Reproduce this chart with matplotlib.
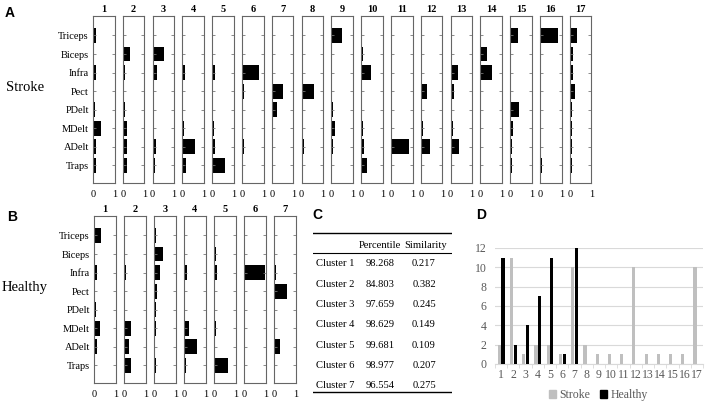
import numpy as np
import matplotlib
matplotlib.use('Agg')
import matplotlib.pyplot as plt
from matplotlib.patches import Patch

plt.rcParams['font.family'] = ['Liberation Serif', 'DejaVu Serif']

muscles = ['Triceps', 'Biceps', 'Infra', 'Pect', 'PDelt', 'MDelt', 'ADelt', 'Traps']

# synergy weights, one row per cluster, columns in muscle order
stroke_syn = [
    [0.14, 0.04, 0.14, 0.01, 0.11, 0.38, 0.16, 0.13],
    [0.05, 0.33, 0.12, 0.07, 0.09, 0.18, 0.20, 0.21],
    [0.08, 0.52, 0.20, 0.04, 0.06, 0.04, 0.14, 0.09],
    [0.01, 0.01, 0.14, 0.04, 0.03, 0.09, 0.60, 0.18],
    [0.06, 0.06, 0.12, 0.04, 0.04, 0.07, 0.12, 0.60],
    [0.03, 0.03, 0.77, 0.08, 0.03, 0.03, 0.08, 0.06],
    [0.05, 0.06, 0.06, 0.54, 0.23, 0.03, 0.06, 0.06],
    [0.03, 0.06, 0.06, 0.58, 0.03, 0.03, 0.12, 0.03],
    [0.51, 0.02, 0.05, 0.03, 0.09, 0.18, 0.09, 0.02],
    [0.05, 0.09, 0.45, 0.03, 0.05, 0.08, 0.12, 0.29],
    [0.02, 0.02, 0.05, 0.05, 0.02, 0.06, 0.86, 0.05],
    [0.06, 0.03, 0.06, 0.31, 0.03, 0.11, 0.45, 0.05],
    [0.02, 0.02, 0.34, 0.18, 0.02, 0.11, 0.37, 0.05],
    [0.03, 0.32, 0.55, 0.05, 0.02, 0.02, 0.02, 0.03],
    [0.34, 0.02, 0.03, 0.02, 0.42, 0.12, 0.08, 0.09],
    [0.86, 0.02, 0.02, 0.02, 0.05, 0.05, 0.03, 0.08],
    [0.32, 0.15, 0.17, 0.23, 0.11, 0.11, 0.08, 0.08],
]
healthy_syn = [
    [0.32, 0.05, 0.14, 0.02, 0.09, 0.27, 0.12, 0.06],
    [0.03, 0.02, 0.11, 0.02, 0.06, 0.32, 0.24, 0.33],
    [0.08, 0.41, 0.29, 0.15, 0.08, 0.09, 0.02, 0.08],
    [0.06, 0.02, 0.12, 0.05, 0.03, 0.21, 0.59, 0.08],
    [0.02, 0.09, 0.14, 0.05, 0.03, 0.09, 0.05, 0.67],
    [0.01, 0.01, 0.98, 0.01, 0.02, 0.01, 0.01, 0.01],
    [0.06, 0.04, 0.08, 0.60, 0.04, 0.04, 0.27, 0.06],
]

table_clusters = ['Cluster 1', 'Cluster 2', 'Cluster 3', 'Cluster 4', 'Cluster 5', 'Cluster 6', 'Cluster 7']
table_percentile = ['98.268', '84.803', '97.659', '98.629', '99.681', '98.977', '96.554']
table_similarity = ['0.217', '0.382', '0.245', '0.149', '0.109', '0.207', '0.275']

d_clusters = [str(i) for i in range(1, 18)]
d_stroke = [2, 11, 1, 2, 2, 1, 10, 2, 1, 1, 1, 10, 1, 1, 1, 1, 10]
d_healthy = [11, 2, 4, 7, 11, 1, 12, 0, 0, 0, 0, 0, 0, 0, 0, 0, 0]

W, H = 708, 405
fig = plt.figure(figsize=(W / 100, H / 100), dpi=100)


def px_axes(x0, y0, x1, y1):
    return fig.add_axes([x0 / W, 1 - y1 / H, (x1 - x0) / W, (y1 - y0) / H])


def synergy_row(data, left, step, top, bottom, row_label):
    ypos = np.arange(len(muscles))[::-1] + 1
    for i, weights in enumerate(data):
        x0 = left + i * step
        ax = px_axes(x0, top, x0 + 21.5, bottom)
        ax.barh(ypos, weights, height=0.8, color='black')
        ax.set_xlim(0, 1)
        ax.set_ylim(0.05, 9.05)
        ax.set_xticks([0, 1])
        ax.set_xticklabels(['0', '1'], fontsize=7.5)
        ax.set_yticks(ypos)
        ax.tick_params(axis='y', direction='in', length=2, left=True, right=True,
                       width=0.6, color='#777777')
        ax.tick_params(axis='x', length=0, pad=5)
        if i == 0:
            ax.set_yticklabels(muscles, fontsize=7.5)
            ax.tick_params(axis='y', pad=3)
        else:
            ax.set_yticklabels([])
        for s in ax.spines.values():
            s.set_color('#666666')
            s.set_linewidth(0.8)
        ax.set_title(str(i + 1), fontsize=7.5, fontweight='bold', pad=3)
    fig.text(25 / W, 1 - ((top + bottom) / 2 - 12) / H, row_label, fontsize=10.5,
             ha='center', va='center')


synergy_row(stroke_syn, 93, 29.8, 16, 183, 'Stroke')
synergy_row(healthy_syn, 94, 30.0, 216, 383, 'Healthy')

# panel letters
for lab, x, y in [('A', 10, 13), ('B', 12, 217), ('C', 317, 215), ('D', 481, 215)]:
    fig.text(x / W, 1 - y / H, lab, fontsize=10, fontweight='bold',
             family='Liberation Sans', ha='center', va='center')

# table C
tab = px_axes(313, 228, 452, 396)
tab.set_xlim(313, 452)
tab.set_ylim(396, 228)
tab.axis('off')
tab.plot([313, 451], [233, 233], color='black', lw=1.0)
tab.plot([313, 451], [253, 253], color='black', lw=0.8)
tab.plot([313, 451], [392, 392], color='black', lw=1.0)
tab.text(380, 245, 'Percentile', fontsize=7.6, ha='center', va='center')
tab.text(426, 245, 'Similarity', fontsize=7.6, ha='center', va='center')
for k in range(len(table_clusters)):
    yy = 264 + k * 20.3
    tab.text(316, yy, table_clusters[k], fontsize=7.6, ha='left', va='center')
    tab.text(380, yy, table_percentile[k], fontsize=7.6, ha='center', va='center')
    tab.text(424, yy, table_similarity[k], fontsize=7.6, ha='center', va='center')

# panel D
axd = px_axes(495, 248, 703, 364)
xpos = np.arange(1, len(d_clusters) + 1)
axd.bar(xpos - 0.15, d_stroke, width=0.26, color='#BFBFBF', zorder=3)
axd.bar(xpos + 0.15, d_healthy, width=0.26, color='black', zorder=3)
axd.set_xlim(0.5, len(d_clusters) + 0.5)
axd.set_ylim(0, 12)
axd.set_yticks(range(0, 13, 2))
axd.set_xticks(xpos)
axd.set_xticklabels(d_clusters)
axd.set_xticks(np.arange(0.5, len(d_clusters) + 1, 1), minor=True)
axd.tick_params(axis='x', which='minor', length=3, color='#D9D9D9')
axd.tick_params(axis='both', which='major', length=0, labelsize=8.5, labelcolor='#595959')
axd.tick_params(axis='y', pad=6)
axd.grid(axis='y', color='#D9D9D9', lw=0.8, zorder=0)
for s in ['top', 'right', 'left']:
    axd.spines[s].set_visible(False)
axd.spines['bottom'].set_color('#D9D9D9')
handles = [Patch(color='#BFBFBF', label='Stroke'), Patch(color='black', label='Healthy')]
fig.legend(handles=handles, loc='center', bbox_to_anchor=(598 / W, 1 - 395 / H), ncol=2,
           frameon=False, fontsize=8.5, handlelength=0.6, handleheight=0.6,
           handletextpad=0.3, columnspacing=0.8, labelcolor='#595959')

fig.savefig('out.png', dpi=100)
